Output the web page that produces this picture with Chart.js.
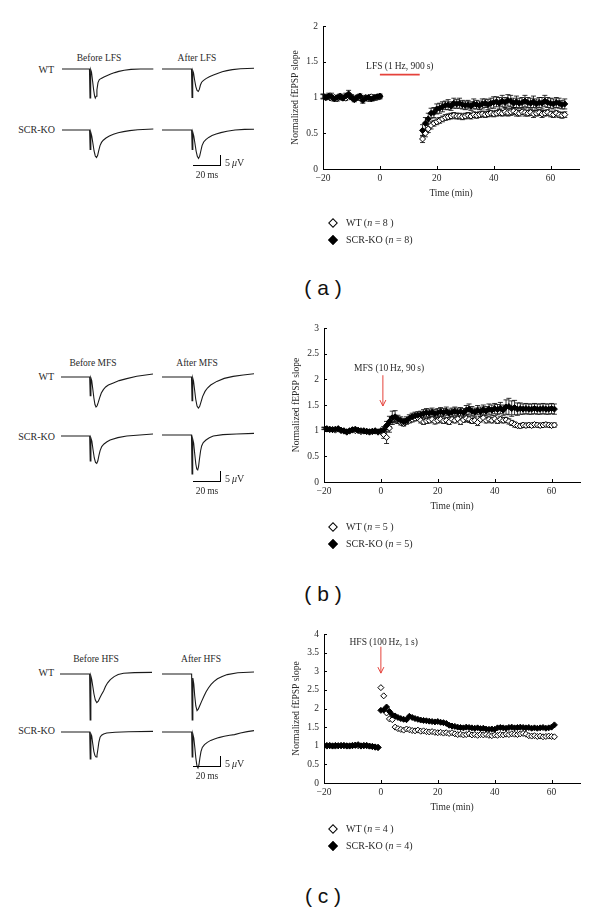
<!DOCTYPE html>
<html>
<head>
<meta charset="utf-8">
<title>Normalized fEPSP slope after LFS, MFS and HFS</title>
<script src="https://cdn.jsdelivr.net/npm/chart.js@4.4.1/dist/chart.umd.min.js"></script>
<style>
  body { margin: 0; width: 600px; height: 909px; position: relative; background: #fff; overflow: hidden;
         font-family: "Liberation Serif", "Times New Roman", serif; color: #2a2a2a; }
  canvas { position: absolute; }
  .lbl { position: absolute; white-space: nowrap; font-size: 9.5px; line-height: 1; transform: translate(-50%, -50%); }
  .row { position: absolute; white-space: nowrap; font-size: 10px; line-height: 1; transform: translate(-100%, -50%); }
  .leg { position: absolute; white-space: nowrap; font-size: 10px; line-height: 1; transform: translateY(-50%); }
  .dia { position: absolute; width: 5px; height: 5px; border: 1.2px solid #000; background: #fff;
         transform: translate(-50%, -50%) rotate(45deg); }
  .dia.fill { background: #000; }
  .panel { position: absolute; white-space: pre; font-family: "Liberation Sans", Arial, sans-serif;
           font-size: 21px; line-height: 1; color: #111; transform: translate(-50%, -50%); }
  .bar { position: absolute; background: #000; }
</style>
</head>
<body>
<script>
  "use strict";

  // ---------- (a) LFS ----------
  var timeBaseA = [-20,-19,-18,-17,-16,-15,-14,-13,-12,-11,-10,-9,-8,-7,-6,-5,-4,-3,-2,-1,0];
  var wtBaseA = [1.02,1.00,1.01,0.99,1.00,0.98,1.02,1.00,0.99,1.03, 1.01,0.98,1.00,0.99,0.97,1.00,0.98,1.01,0.99,1.00, 1.01];
  var koBaseA = [1.01,1.00,1.02,1.01,0.98,1.00,1.01,0.99,1.02,1.05, 1.00,0.97,1.00,1.02,0.96,0.99,1.00,0.98,1.00,1.01, 1.02];
  var wtBaseErrA = [0.03,0.03,0.03,0.03,0.03,0.03,0.03,0.03,0.03,0.03, 0.03,0.03,0.03,0.03,0.03,0.03,0.03,0.03,0.03,0.03, 0.03];
  var koBaseErrA = [0.03,0.03,0.04,0.05,0.03,0.03,0.03,0.03,0.04,0.05, 0.03,0.03,0.03,0.03,0.04,0.03,0.03,0.03,0.03,0.03, 0.03];
  var timePostA = [15,16,17,18,19,20,21,22,23,24, 25,26,27,28,29,30,31,32,33,34, 35,36,37,38,39,40,41,42,43,44,
                   45,46,47,48,49,50,51,52,53,54, 55,56,57,58,59,60,61,62,63,64, 65];
  var koPostA = [0.54,0.64,0.70,0.78,0.79,0.84,0.85,0.87,0.89,0.90, 0.88,0.92,0.91,0.92,0.90,0.89,0.90,0.88,0.91,0.90,
                 0.89,0.91,0.92,0.90,0.92,0.93,0.94,0.92,0.95,0.93, 0.96,0.95,0.92,0.94,0.92,0.93,0.95,0.93,0.92,0.94,
                 0.91,0.93,0.92,0.95,0.93,0.92,0.91,0.93,0.92,0.90, 0.91];
  var koPostErrA = [0.08,0.08,0.08,0.07,0.07,0.07,0.07,0.07,0.06,0.07, 0.06,0.07,0.06,0.07,0.06,0.06,0.06,0.06,0.07,0.06,
                    0.06,0.07,0.06,0.07,0.07,0.08,0.07,0.08,0.08,0.07, 0.08,0.08,0.07,0.08,0.07,0.07,0.08,0.07,0.07,0.08,
                    0.07,0.07,0.08,0.08,0.07,0.07,0.07,0.07,0.07,0.06, 0.07];
  var wtPostA = [0.42,0.50,0.56,0.61,0.64,0.66,0.68,0.70,0.72,0.73, 0.74,0.75,0.74,0.74,0.73,0.74,0.75,0.74,0.76,0.75,
                 0.76,0.77,0.76,0.77,0.78,0.77,0.78,0.79,0.78,0.80, 0.79,0.80,0.81,0.79,0.78,0.80,0.79,0.78,0.79,0.77,
                 0.78,0.79,0.77,0.78,0.79,0.77,0.76,0.78,0.76,0.75, 0.76];
  var wtPostErrA = [0.05,0.05,0.05,0.05,0.04,0.04,0.04,0.04,0.04,0.04, 0.04,0.04,0.04,0.04,0.04,0.04,0.04,0.04,0.04,0.04,
                    0.04,0.04,0.04,0.04,0.04,0.04,0.04,0.04,0.04,0.05, 0.05,0.05,0.05,0.05,0.04,0.04,0.05,0.04,0.04,0.05,
                    0.04,0.04,0.05,0.04,0.04,0.04,0.04,0.04,0.04,0.04, 0.04];
  var lfsBar = [0, 14];          // stimulation period (min)
  var lfsBarLevel = 1.32;
  var lfsText = ["LFS (1\u2009Hz, 900\u2009s)", 7, 1.44];

  // ---------- (b) MFS ----------
  var timeBaseB = [-20,-19,-18,-17,-16,-15,-14,-13,-12,-11,-10,-9,-8,-7,-6,-5,-4,-3,-2,-1,0];
  var koBaseB = [1.05,1.04,1.03,1.02,1.03,1.04,1.01,1.00,0.98,1.00, 1.02,1.03,1.01,1.00,1.00,0.99,0.98,0.99,1.00,0.98, 1.00];
  var wtBaseB = [1.04,1.03,1.02,1.02,1.01,1.03,1.00,0.99,0.97,0.99, 1.01,1.00,1.00,0.98,0.99,0.98,0.97,0.98,0.99,0.97, 0.98];
  var baseErrB = [0.02,0.02,0.02,0.02,0.02,0.02,0.02,0.02,0.02,0.02, 0.02,0.02,0.02,0.02,0.02,0.02,0.02,0.02,0.02,0.02, 0.02];
  var timePostB = [1,2,3,4,5,6,7,8,9,10, 11,12,13,14,15,16,17,18,19,20, 21,22,23,24,25,26,27,28,29,30,
                   31,32,33,34,35,36,37,38,39,40, 41,42,43,44,45,46,47,48,49,50, 51,52,53,54,55,56,57,58,59,60, 61];
  var koPostB = [1.02,1.10,1.18,1.25,1.27,1.22,1.20,1.17,1.20,1.24, 1.27,1.29,1.30,1.31,1.33,1.35,1.34,1.36,1.33,1.35,
                 1.37,1.35,1.38,1.34,1.36,1.38,1.36,1.37,1.35,1.40, 1.42,1.38,1.36,1.40,1.37,1.41,1.38,1.42,1.40,1.43,
                 1.41,1.44,1.40,1.46,1.47,1.43,1.45,1.42,1.43,1.42, 1.43,1.42,1.42,1.43,1.42,1.42,1.43,1.42,1.42,1.43, 1.42];
  var koPostErrB = [0.06,0.08,0.10,0.13,0.12,0.08,0.07,0.07,0.07,0.07, 0.07,0.07,0.07,0.07,0.08,0.08,0.08,0.08,0.08,0.08,
                    0.08,0.08,0.08,0.08,0.08,0.08,0.08,0.08,0.08,0.09, 0.10,0.09,0.08,0.09,0.09,0.09,0.09,0.10,0.10,0.10,
                    0.10,0.11,0.10,0.14,0.16,0.15,0.14,0.12,0.11,0.10, 0.10,0.10,0.10,0.10,0.10,0.10,0.10,0.10,0.10,0.10, 0.10];
  var wtPostB = [0.92,0.87,1.05,1.22,1.24,1.20,1.16,1.14,1.18,1.20, 1.22,1.24,1.25,1.20,1.17,1.19,1.20,1.22,1.18,1.20,
                 1.22,1.19,1.20,1.17,1.22,1.20,1.23,1.17,1.21,1.24, 1.22,1.19,1.20,1.16,1.22,1.25,1.20,1.22,1.20,1.23,
                 1.19,1.22,1.20,1.21,1.18,1.15,1.12,1.10,1.09,1.11, 1.10,1.11,1.10,1.12,1.11,1.10,1.11,1.12,1.11,1.10, 1.11];
  var wtPostErrB = [0.07,0.12,0.08,0.06,0.06,0.05,0.05,0.05,0.05,0.05, 0.05,0.05,0.05,0.05,0.05,0.05,0.05,0.05,0.05,0.05,
                    0.05,0.05,0.05,0.05,0.05,0.05,0.05,0.05,0.05,0.06, 0.06,0.05,0.05,0.06,0.05,0.05,0.05,0.05,0.05,0.06,
                    0.05,0.05,0.05,0.05,0.05,0.05,0.05,0.04,0.04,0.04, 0.04,0.04,0.04,0.04,0.04,0.04,0.04,0.04,0.04,0.04, 0.04];
  var mfsArrow = [0.7, 2.08, 1.48];   // time, from, to
  var mfsText = ["MFS (10\u2009Hz, 90\u2009s)", 2.9, 2.21];

  // ---------- (c) HFS ----------
  var timeBaseC = [-20,-19,-18,-17,-16,-15,-14,-13,-12,-11,-10,-9,-8,-7,-6,-5,-4,-3,-2,-1];
  var wtBaseC = [1.00,0.99,1.01,1.00,0.99,1.00,1.01,1.00,0.99,1.00, 1.01,1.02,1.00,0.99,1.01,1.00,0.99,0.98,0.97,0.96];
  var koBaseC = [1.00,1.01,1.00,0.99,1.01,1.00,1.00,1.01,1.00,0.99, 1.00,1.01,1.03,1.00,1.00,1.01,0.99,0.98,0.96,0.95];
  var timePostC = [0,1,2,3,4,5,6,7,8,9, 10,11,12,13,14,15,16,17,18,19, 20,21,22,23,24,25,26,27,28,29,
                   30,31,32,33,34,35,36,37,38,39, 40,41,42,43,44,45,46,47,48,49, 50,51,52,53,54,55,56,57,58,59, 60,61];
  var wtPostC = [2.56,2.34,1.88,1.72,1.70,1.50,1.46,1.44,1.42,1.45, 1.43,1.41,1.40,1.42,1.39,1.40,1.38,1.37,1.38,1.36,
                 1.35,1.36,1.34,1.35,1.33,1.35,1.32,1.30,1.31,1.29, 1.30,1.32,1.29,1.30,1.28,1.30,1.29,1.30,1.28,1.27,
                 1.29,1.28,1.30,1.29,1.31,1.30,1.32,1.31,1.30,1.32, 1.33,1.31,1.27,1.26,1.27,1.25,1.26,1.24,1.25,1.26, 1.25,1.24];
  var koPostC = [1.95,1.96,2.04,1.92,1.83,1.80,1.76,1.73,1.71,1.70, 1.79,1.76,1.73,1.71,1.69,1.68,1.67,1.66,1.65,1.64,
                 1.65,1.63,1.62,1.60,1.55,1.53,1.52,1.50,1.49,1.48, 1.50,1.49,1.48,1.47,1.48,1.46,1.47,1.45,1.44,1.45,
                 1.44,1.48,1.49,1.48,1.47,1.49,1.50,1.48,1.49,1.50, 1.49,1.48,1.49,1.47,1.48,1.47,1.48,1.49,1.47,1.48, 1.50,1.56];
  var hfsArrow = [0, 3.66, 2.95];
  var hfsText = ["HFS (100\u2009Hz, 1\u2009s)", 1, 3.78];

  // ---------- example traces: [ms, µV] ----------
  var wtBeforeLFS = [[0,0],[20.3,0],[20.7,-14.5],[21.2,-0.3],[21.8,-1.5],[22.6,-6],[23.4,-10.5],[24.1,-13.6],[24.6,-14.5],
                     [25.2,-13.6],[25.8,-10.5],[26.6,-6.8],[27.6,-5.3],[29,-4.7],[31,-4],[33.5,-3.2],[36,-2.5],[39,-1.8],
                     [42,-1.2],[46,-0.6],[51,-0.2],[58,0],[67.5,0]];
  var wtAfterLFS = [[0,0],[21.8,0],[22.2,-14.2],[22.7,-0.8],[23.3,-2],[24.1,-5.5],[25,-8.8],[25.9,-10.7],[26.8,-11.2],
                    [27.6,-10.2],[28.4,-8],[29.3,-6.6],[30.5,-5.8],[32.5,-4.8],[35,-3.9],[38,-3],[41,-2.2],[44.5,-1.4],
                    [48,-0.8],[52,-0.3],[58,0.1],[68,0.4]];
  var koBeforeLFS = [[0,0],[20.4,0],[20.8,-9.7],[21.3,-1.2],[22,-3],[22.8,-6.5],[23.7,-10.5],[24.6,-13],[25.5,-13.8],
                     [26.3,-12.8],[27.2,-10.2],[28.1,-7.8],[29.2,-6.2],[30.5,-5.1],[32.5,-4],[35,-3],[38,-2.1],
                     [41.5,-1.4],[45.5,-0.8],[50,-0.3],[56,0.1],[67.5,0.5]];
  var koAfterLFS = [[0,0],[21.9,0],[22.3,-9.7],[22.8,-1.2],[23.5,-3],[24.3,-6.5],[25.2,-10.5],[26.1,-13.2],[27,-14.2],
                    [27.8,-13.2],[28.7,-10.5],[29.6,-7.8],[30.8,-6],[32.4,-4.8],[34.5,-3.7],[37,-2.8],[40,-2],[43.5,-1.3],
                    [48,-0.6],[54,0],[61,0.3],[68,0.4]];

  var wtBeforeMFS = [[0,0],[21.2,0],[21.6,-9.3],[22.1,-0.5],[22.7,-1.8],[23.5,-6],[24.3,-10.5],[25.1,-13.8],[25.9,-15],
                     [26.7,-14.4],[27.6,-12.6],[28.6,-10.3],[29.8,-8],[31.3,-6.3],[33,-5],[35,-4],[38.7,-3],[43,-1.8],
                     [48.6,-0.8],[56,0.4],[68,1.5]];
  var wtAfterMFS = [[0,0],[21.8,0],[22.2,-11.8],[22.7,-0.5],[23.3,-2],[24.1,-6.5],[24.9,-11],[25.9,-14.5],[26.9,-15.5],
                    [27.8,-14.8],[28.8,-12.6],[30,-9.8],[31.8,-7.2],[33.6,-5.5],[36,-4],[40.5,-2.2],[46,-0.7],
                    [52.6,0.3],[60,1],[68.5,1.7]];
  var koBeforeMFS = [[0,0],[21.2,0],[21.6,-12.5],[22.1,-1],[22.8,-2.5],[23.7,-7],[24.6,-11],[25.5,-13.2],[26.4,-13.7],
                     [27.2,-12.5],[28,-9.8],[28.9,-7.3],[30.1,-5.3],[31.8,-4],[34,-2.9],[36.3,-2],[42,-0.8],[48.6,0],[68,1]];
  var koAfterMFS = [[0,0],[21.8,0],[22.2,-19.5],[22.7,-2],[23.4,-4],[24.2,-9.5],[25,-14.5],[25.7,-17],[26.4,-17.5],
                    [27,-15.8],[27.7,-12],[28.5,-8],[29.3,-5.5],[30.5,-3.8],[32.5,-2.5],[35,-1.4],[37.9,-0.5],
                    [45,0.2],[55,0.5],[68.5,0.8]];

  var wtBeforeHFS = [[0,0],[21.9,0],[22.3,-23],[22.8,-1],[23.4,-2.5],[24.2,-6],[25.1,-10],[26.1,-13],[27.2,-14.3],
                     [28.3,-13.6],[29.4,-12],[30.7,-10.3],[32.2,-8.5],[33.6,-6.3],[35.2,-4.4],[37.2,-2.8],[40,-1.3],
                     [43,-0.2],[47,0.4],[55,0.7],[69,0.8]];
  var wtAfterHFS = [[0,0],[21.9,0],[22.3,-23],[22.8,-2],[23.5,-5],[24.2,-11],[25,-16],[25.9,-18.3],[26.8,-17.6],
                    [27.8,-16],[29.2,-13.8],[30.9,-11.3],[32.5,-9],[34.3,-7],[36.3,-5.2],[38.3,-3.8],[41,-2.4],
                    [44.5,-1.2],[48.2,-0.3],[56,0.6],[68,1]];
  var koBeforeHFS = [[0,0],[21.2,0],[21.6,-13.5],[22.1,-1],[22.7,-2],[23.5,-6],[24.3,-9.8],[25.1,-11.8],[25.9,-12.5],
                     [26.6,-11.6],[27.3,-8.5],[28,-5],[28.9,-2.6],[30,-1.6],[31.5,-1],[33.8,-0.5],[40,-0.1],[50,0.1],[68,0.3]];
  var koAfterHFS = [[0,0],[21.9,0],[22.3,-12.5],[22.8,-1],[23.5,-3],[24.3,-8],[25,-13],[25.8,-16.8],[26.6,-18],
                    [27.3,-16.5],[28,-13],[28.8,-9.8],[29.8,-7.7],[31.4,-6.3],[33.5,-5.2],[36,-4.2],[38.8,-3.5],
                    [42,-2.8],[46,-2.1],[50,-1.6],[53.6,-1.3],[58,-0.5],[63,0.2],[68,0.7]];

  var INK = "#2a2a2a";
  var RED = "#e5423b";

  Chart.defaults.font.family = '"Liberation Serif", "Times New Roman", serif';
  Chart.defaults.font.size = 9.5;
  Chart.defaults.color = INK;

  // helpers for the plain page parts
  function put(cls, html, x, y) {
    var d = document.createElement("div");
    d.className = cls;
    d.innerHTML = html;
    d.style.left = x + "px";
    d.style.top = y + "px";
    document.body.appendChild(d);
    return d;
  }
  function rect(x, y, w, h) {
    var d = put("bar", "", x, y);
    d.style.width = w + "px";
    d.style.height = h + "px";
  }
  function scaleBar(y) {
    rect(193, y, 28, 1);
    rect(220, y - 10, 1, 11);
    put("leg", "5\u2009<i>\u03bc</i>V", 225, y - 2);
    put("lbl", "20\u2009ms", 207, y + 11);
  }
  function legend(y, n) {
    put("dia", "", 333, y);
    put("leg", "WT (<i>n</i> = " + n + " )", 346, y);
    put("dia fill", "", 333, y + 17);
    put("leg", "SCR-KO (<i>n</i> = " + n + ")", 346, y + 17);
  }

  // one small line chart per example trace
  function trace(wave, left, base) {
    var cv = document.createElement("canvas");
    cv.width = 92;
    cv.height = 56;
    cv.style.left = left + "px";
    cv.style.top = (base - 6) + "px";
    document.body.appendChild(cv);
    new Chart(cv, {
      type: "line",
      data: {
        datasets: [{
          data: wave.map(function (p) { return { x: p[0], y: p[1] }; }),
          borderColor: "#1a1a1a",
          borderWidth: 1.1,
          pointRadius: 0,
          tension: 0,
          fill: false
        }]
      },
      options: {
        responsive: false,
        animation: false,
        events: [],
        layout: { padding: 0 },
        plugins: { legend: { display: false }, tooltip: { enabled: false } },
        scales: {
          x: { type: "linear", display: false, min: 0, max: 68 },
          y: { display: false, min: -25, max: 3 }
        }
      }
    });
  }

  // inward tick marks on both axes
  var axisTicks = {
    id: "axisTicks",
    afterDraw: function (chart) {
      var ctx = chart.ctx, a = chart.chartArea, x = chart.scales.x, y = chart.scales.y;
      ctx.save();
      ctx.strokeStyle = "#000";
      ctx.lineWidth = 1;
      ctx.beginPath();
      x.ticks.forEach(function (t) {
        var px = Math.round(x.getPixelForValue(t.value)) + 0.5;
        ctx.moveTo(px, a.bottom);
        ctx.lineTo(px, a.bottom - 3);
      });
      y.ticks.forEach(function (t) {
        var py = Math.round(y.getPixelForValue(t.value)) + 0.5;
        ctx.moveTo(a.left, py);
        ctx.lineTo(a.left + 3, py);
      });
      ctx.stroke();
      ctx.restore();
    }
  };

  // SEM bars, drawn under the markers
  var errorBars = {
    id: "errorBars",
    beforeDatasetsDraw: function (chart) {
      var ctx = chart.ctx, y = chart.scales.y;
      ctx.save();
      ctx.strokeStyle = "#000";
      ctx.lineWidth = 0.8;
      chart.data.datasets.forEach(function (ds, i) {
        if (!ds.errors) return;
        chart.getDatasetMeta(i).data.forEach(function (el, j) {
          var e = ds.errors[j];
          if (!e) return;
          var v = ds.data[j].y;
          var hi = y.getPixelForValue(v + e), lo = y.getPixelForValue(v - e);
          ctx.beginPath();
          ctx.moveTo(el.x, hi); ctx.lineTo(el.x, lo);
          ctx.moveTo(el.x - 2.5, hi); ctx.lineTo(el.x + 2.5, hi);
          ctx.moveTo(el.x - 2.5, lo); ctx.lineTo(el.x + 2.5, lo);
          ctx.stroke();
        });
      });
      ctx.restore();
    }
  };

  // stimulus label, red bar or red arrow
  var stimMarks = {
    id: "stimMarks",
    afterDatasetsDraw: function (chart) {
      var m = chart.canvas.marks;
      if (!m) return;
      var ctx = chart.ctx, x = chart.scales.x, y = chart.scales.y;
      ctx.save();
      ctx.font = '9.5px "Liberation Serif", serif';
      ctx.fillStyle = INK;
      ctx.textAlign = "center";
      ctx.textBaseline = "middle";
      ctx.fillText(m.text[0], x.getPixelForValue(m.text[1]), y.getPixelForValue(m.text[2]));
      ctx.strokeStyle = RED;
      if (m.bar) {
        var py = y.getPixelForValue(m.level);
        ctx.lineWidth = 1.6;
        ctx.beginPath();
        ctx.moveTo(x.getPixelForValue(m.bar[0]), py);
        ctx.lineTo(x.getPixelForValue(m.bar[1]), py);
        ctx.stroke();
      }
      if (m.arrow) {
        var px = x.getPixelForValue(m.arrow[0]);
        var top = y.getPixelForValue(m.arrow[1]), tip = y.getPixelForValue(m.arrow[2]);
        ctx.lineWidth = 1;
        ctx.beginPath();
        ctx.moveTo(px, top); ctx.lineTo(px, tip);
        ctx.moveTo(px - 3, tip - 6); ctx.lineTo(px, tip); ctx.lineTo(px + 3, tip - 6);
        ctx.stroke();
      }
      ctx.restore();
    }
  };

  function pts(xs, ys) {
    return xs.map(function (v, i) { return { x: v, y: ys[i] }; });
  }
  function series(xs, ys, errs, filled) {
    return {
      data: pts(xs, ys),
      errors: errs,
      pointStyle: "rectRot",
      pointRadius: 3,
      borderWidth: 1,
      borderColor: "#000",
      backgroundColor: filled ? "#000" : "#fff"
    };
  }

  // box = plot area on the page
  function slopeChart(box, yMax, sets, marks) {
    var cv = document.createElement("canvas");
    cv.width = box.r - box.l + 55;
    cv.height = box.b - box.t + 44;
    cv.style.left = (box.l - 45) + "px";
    cv.style.top = (box.t - 12) + "px";
    cv.marks = marks;
    document.body.appendChild(cv);
    return new Chart(cv, {
      type: "scatter",
      data: { datasets: sets },
      plugins: [errorBars, stimMarks, axisTicks],
      options: {
        responsive: false,
        animation: false,
        events: [],
        layout: { padding: { left: 12, top: 12, right: 10, bottom: 2 } },
        plugins: { legend: { display: false }, tooltip: { enabled: false } },
        scales: {
          x: {
            type: "linear", min: -20, max: 70,
            ticks: {
              stepSize: 20, includeBounds: false, padding: 4, color: INK,
              callback: function (v) { return v < 0 ? "\u2212" + (-v) : "" + v; }
            },
            grid: { display: false, drawTicks: false },
            border: { color: "#000", width: 1 },
            title: { display: true, text: "Time (min)", padding: 0, color: INK },
            afterFit: function (s) { s.height = 30; }
          },
          y: {
            min: 0, max: yMax,
            ticks: {
              stepSize: 0.5, padding: 5, color: INK,
              callback: function (v) { return "" + v; }
            },
            grid: { display: false, drawTicks: false },
            border: { color: "#000", width: 1 },
            title: { display: true, text: "Normalized fEPSP slope", padding: 0, color: INK },
            afterFit: function (s) { s.width = 33; }
          }
        }
      }
    });
  }

  // ---------- panel (a) ----------
  put("lbl", "Before LFS", 99, 59);
  put("lbl", "After LFS", 197, 59);
  put("row", "WT", 54, 70);
  put("row", "SCR-KO", 55, 130);
  trace(wtBeforeLFS, 62, 69);
  trace(wtAfterLFS, 162, 69);
  trace(koBeforeLFS, 62, 130);
  trace(koAfterLFS, 162, 130);
  scaleBar(165);
  slopeChart({ l: 323, r: 579, t: 26, b: 169 }, 2, [
    series(timeBaseA.concat(timePostA), koBaseA.concat(koPostA), koBaseErrA.concat(koPostErrA), true),
    series(timeBaseA.concat(timePostA), wtBaseA.concat(wtPostA), wtBaseErrA.concat(wtPostErrA), false)
  ], { text: lfsText, bar: lfsBar, level: lfsBarLevel });
  legend(223, 8);
  put("panel", "( a )", 323, 287);

  // ---------- panel (b) ----------
  put("lbl", "Before MFS", 93, 364);
  put("lbl", "After MFS", 197, 364);
  put("row", "WT", 54, 377);
  put("row", "SCR-KO", 55, 437);
  trace(wtBeforeMFS, 61, 377);
  trace(wtAfterMFS, 162, 377);
  trace(koBeforeMFS, 61, 436);
  trace(koAfterMFS, 162, 435);
  scaleBar(481);
  slopeChart({ l: 324, r: 580, t: 328, b: 482 }, 3, [
    series(timeBaseB.concat(timePostB), koBaseB.concat(koPostB), baseErrB.concat(koPostErrB), true),
    series(timeBaseB.concat(timePostB), wtBaseB.concat(wtPostB), baseErrB.concat(wtPostErrB), false)
  ], { text: mfsText, arrow: mfsArrow });
  legend(527, 5);
  put("panel", "( b )", 323, 593);

  // ---------- panel (c) ----------
  put("lbl", "Before HFS", 96, 660);
  put("lbl", "After HFS", 201, 660);
  put("row", "WT", 54, 673);
  put("row", "SCR-KO", 55, 731);
  trace(wtBeforeHFS, 60, 674);
  trace(wtAfterHFS, 162, 674);
  trace(koBeforeHFS, 61, 732);
  trace(koAfterHFS, 162, 732);
  scaleBar(766);
  slopeChart({ l: 324, r: 580, t: 634, b: 783 }, 4, [
    series(timeBaseC.concat(timePostC), koBaseC.concat(koPostC), null, true),
    series(timeBaseC.concat(timePostC), wtBaseC.concat(wtPostC), null, false)
  ], { text: hfsText, arrow: hfsArrow });
  legend(829, 4);
  put("panel", "( c )", 323, 895);
</script>
</body>
</html>
